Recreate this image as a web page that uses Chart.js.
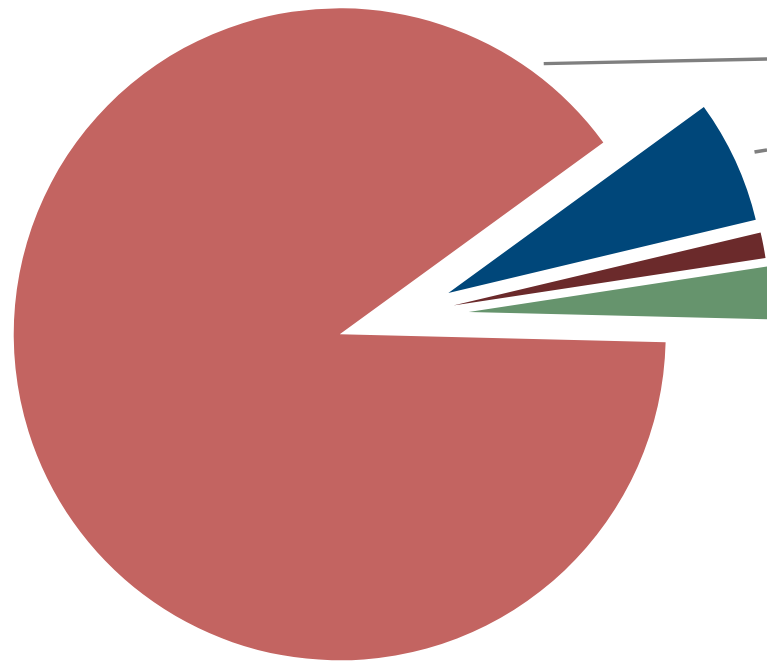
<!DOCTYPE html>
<html>
<head>
<meta charset="utf-8">
<script src="https://cdn.jsdelivr.net/npm/chart.js@4.4.1/dist/chart.umd.min.js"></script>
<style>
  html, body { margin: 0; padding: 0; background: #fff; }
  #wrap { width: 767px; height: 664px; }
</style>
</head>
<body>
<div id="wrap"><canvas id="chart"></canvas></div>
<script>
const labels = ['Segment A', 'Segment B', 'Segment C', 'Segment D'];
const values = [89.6, 6.3, 1.3, 2.8];

const colors = ['#C36461', '#00477A', '#6B2A2B', '#66946D'];
const explode = [60, 56.5, 57.2, 71.8];   // px each slice is pulled out along its mid angle
const sliceRadius = [326, 316, 316, 316];

const leaderColor = '#7F7F7F';
const leaders = [
  { index: 0, angle: -53, gap: 13, slope: -1.2 },
  { index: 1, angle: null, gap: 21, slope: -10 },
];

const rad = (deg) => deg * Math.PI / 180;

// pull the slices apart the way the original does (Chart.js offset also narrows the wedges)
const explodePlugin = {
  id: 'explode',
  afterDatasetUpdate(chart, args) {
    args.meta.data.forEach((arc, i) => {
      const mid = (arc.startAngle + arc.endAngle) / 2;
      arc.x += Math.cos(mid) * explode[i];
      arc.y += Math.sin(mid) * explode[i];
      arc.outerRadius = sliceRadius[i];
    });
  }
};

const leaderPlugin = {
  id: 'leaders',
  afterDatasetsDraw(chart) {
    const arcs = chart.getDatasetMeta(0).data;
    const ctx = chart.ctx;
    ctx.save();
    ctx.strokeStyle = leaderColor;
    ctx.lineWidth = 3.5;
    leaders.forEach(({ index, angle, gap, slope }) => {
      const arc = arcs[index];
      const t = angle === null ? (arc.startAngle + arc.endAngle) / 2 : rad(angle);
      const x0 = arc.x + Math.cos(t) * (arc.outerRadius + gap);
      const y0 = arc.y + Math.sin(t) * (arc.outerRadius + gap);
      const x1 = chart.width;
      const y1 = y0 + Math.tan(rad(slope)) * (x1 - x0);
      ctx.beginPath();
      ctx.moveTo(x0, y0);
      ctx.lineTo(x1, y1);
      ctx.stroke();
    });
    ctx.restore();
  }
};

new Chart(document.getElementById('chart'), {
  type: 'pie',
  data: {
    labels,
    datasets: [{
      data: values,
      backgroundColor: colors,
      borderWidth: 0
    }]
  },
  options: {
    responsive: true,
    maintainAspectRatio: false,
    animation: false,
    rotation: 91.4,
    layout: {
      padding: { left: 27, right: 0, top: 0, bottom: 31 }
    },
    plugins: {
      legend: { display: false },
      tooltip: { enabled: false }
    }
  },
  plugins: [explodePlugin, leaderPlugin]
});
</script>
</body>
</html>
